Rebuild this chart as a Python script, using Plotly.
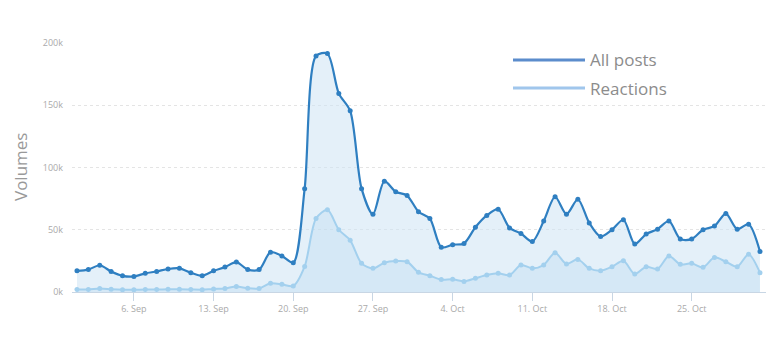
import plotly.graph_objects as go
import pandas as pd

dates = pd.date_range("2015-09-01", "2015-10-31", freq="D")

all_posts_k = [17, 18, 21.5, 16.5, 13, 12.5, 15, 16.5, 18.5, 19,
               15.5, 13, 17, 20, 24, 18, 18, 32, 29, 23.5,
               83, 189.5, 191.5, 159.5, 145.5, 83, 62.5, 89, 80.5, 77.5,
               64.5, 59, 36, 38, 39, 52, 61.5, 66.5, 51.5, 47,
               40.5, 57, 76.5, 62.5, 74.5, 55.5, 44.5, 50, 58, 38.5,
               46.5, 50.5, 57, 42.5, 42.5, 50, 53, 63, 50.5, 54.5, 32.5]

reactions_k = [2, 2, 2.8, 2.2, 1.8, 1.8, 2, 2, 2.2, 2.2,
               2, 1.8, 2.5, 2.8, 4.5, 3, 2.8, 7, 6.2, 4.8,
               20.5, 59, 66, 50, 41.5, 23, 19, 23.5, 24.8, 24.3,
               15.8, 13.1, 10, 10.2, 8.5, 11, 13.6, 15, 13.6, 21.7,
               19, 21.7, 31.5, 22.5, 26.2, 19, 17.1, 20.3, 25.1, 14.4,
               20.3, 18.5, 28.9, 22.2, 23, 19.8, 27.8, 24.3, 20.3, 30.3, 15.5]

all_posts = [v * 1000 for v in all_posts_k]
reactions = [v * 1000 for v in reactions_k]

x_tick_vals = ["2015-09-06", "2015-09-13", "2015-09-20", "2015-09-27",
               "2015-10-04", "2015-10-11", "2015-10-18", "2015-10-25"]
x_tick_text = ["6. Sep", "13. Sep", "20. Sep", "27. Sep",
               "4. Oct", "11. Oct", "18. Oct", "25. Oct"]
y_tick_vals = [0, 50000, 100000, 150000, 200000]
y_tick_text = ["0k", "50k", "100k", "150k", "200k"]

series_names = ["All posts", "Reactions"]
dark = "#2f7fc1"
light = "#a3d0ee"

fig = go.Figure()
fig.add_trace(go.Scatter(
    x=dates, y=all_posts, name=series_names[0], mode="lines+markers",
    line=dict(color=dark, width=2.2, shape="spline", smoothing=0.8),
    marker=dict(size=5, color=dark),
    fill="tozeroy", fillcolor="rgba(205,228,244,0.55)",
))
fig.add_trace(go.Scatter(
    x=dates, y=reactions, name=series_names[1], mode="lines+markers",
    line=dict(color=light, width=2, shape="spline", smoothing=0.8),
    marker=dict(size=5, color=light),
    fill="tozeroy", fillcolor="rgba(180,215,240,0.3)",
))

L, T, B, R = 72, 43, 52, 2
W, H = 768, 344
pw = W - L - R
ph = H - T - B

def px(xp):
    return (xp - L) / pw

def py(yp):
    return (H - B - yp) / ph

shapes = []
annotations = []
legend_colors = ["#5b8ccc", "#a0c6ec"]
legend_y = [60, 88]
for name, col, yy in zip(series_names, legend_colors, legend_y):
    shapes.append(dict(type="line", xref="paper", yref="paper",
                       x0=px(513), x1=px(585), y0=py(yy), y1=py(yy),
                       line=dict(color=col, width=3)))
    annotations.append(dict(text=name, xref="paper", yref="paper",
                            x=px(588), y=py(yy), xanchor="left", yanchor="middle",
                            showarrow=False,
                            font=dict(family="Open Sans", size=17, color="#8c8c8c")))

annotations.append(dict(text="Volumes", xref="paper", yref="paper",
                        x=px(20), y=py(167), xanchor="center", yanchor="middle",
                        textangle=-90, showarrow=False,
                        font=dict(family="Open Sans", size=17, color="#999999")))

fig.update_layout(
    width=W, height=H,
    margin=dict(l=L, r=R, t=T, b=B),
    paper_bgcolor="white", plot_bgcolor="white",
    showlegend=False,
    shapes=shapes, annotations=annotations,
    font=dict(family="Liberation Sans Narrow, Open Sans", size=9, color="#aaaaaa"),
)
fig.update_xaxes(
    range=["2015-08-31 13:30", "2015-10-31 12:40"],
    tickvals=x_tick_vals, ticktext=x_tick_text,
    showgrid=False, zeroline=False,
    showline=True, linecolor="#c8d6e4", linewidth=1,
    ticks="outside", ticklen=8, tickcolor="#c8d6e4",
    tickfont=dict(family="Liberation Sans Narrow, Open Sans", size=9, color="#aaaaaa"),
)
fig.update_yaxes(
    range=[0, 200000],
    tickvals=y_tick_vals, ticktext=y_tick_text,
    showgrid=True, gridcolor="#e4e4e4", griddash="dot", gridwidth=1,
    zeroline=False, showline=False,
    ticklabelstandoff=8,
    tickfont=dict(family="Liberation Sans Narrow, Open Sans", size=9, color="#aaaaaa"),
)

fig.write_html("out.html")
